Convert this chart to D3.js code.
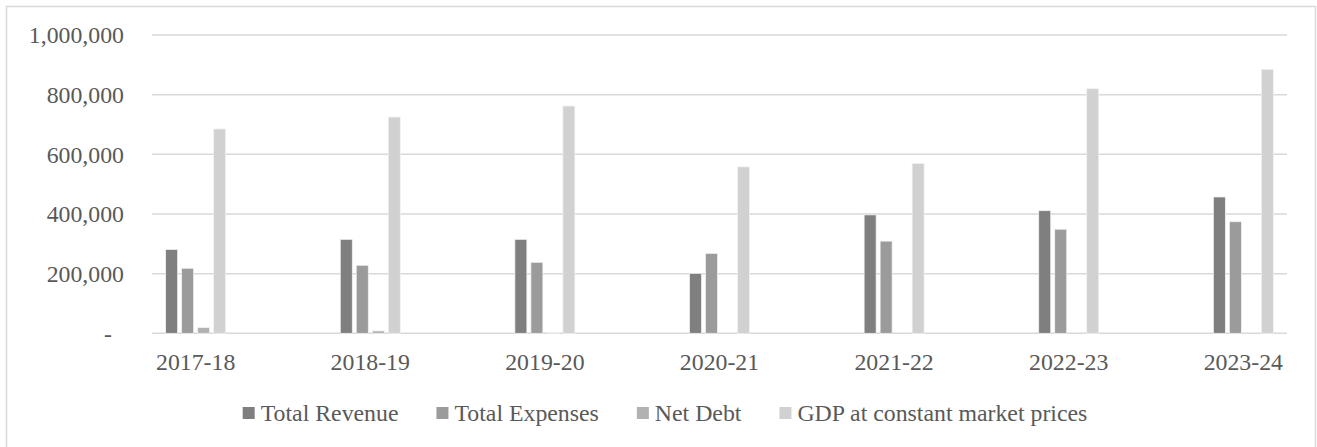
<!DOCTYPE html>
<html><head><meta charset="utf-8">
<script src="https://cdn.jsdelivr.net/npm/d3@7"></script>
<style>html,body{margin:0;padding:0;background:#fff;}svg{display:block;font-family:"Liberation Serif","Times New Roman",serif;}</style>
</head><body>
<svg id="chart" width="1317" height="447"></svg>
<script>
const categories = ["2017-18","2018-19","2019-20","2020-21","2021-22","2022-23","2023-24"];
const seriesNames = ["Total Revenue","Total Expenses","Net Debt","GDP at constant market prices"];
const totalRevenue = [281000, 315000, 315000, 201000, 397000, 411000, 457000];
const totalExpenses = [218000, 228000, 238000, 268000, 309000, 349000, 374000];
const netDebt = [19000, 8000, 1000, 0, 0, 0, 0];
const gdp = [685000, 725000, 762000, 558000, 569000, 820000, 885000];
const yTicks = [0, 200000, 400000, 600000, 800000, 1000000];
const colors = ["#7f7f7f", "#9b9b9b", "#b2b2b2", "#d1d1d1"];

const seriesValues = [totalRevenue, totalExpenses, netDebt, gdp];
const svg = d3.select("#chart");
const plotLeft = 152, plotRight = 1287, plotTop = 35, plotBottom = 333.3;
const fs = 23.8;

svg.append("rect").attr("x",6.5).attr("y",6.5).attr("width",1309).attr("height",445)
  .attr("fill","#fff").attr("stroke","#d9d9d9").attr("stroke-width",1.5);

const x = d3.scalePoint().domain(categories).range([plotLeft, plotRight]).padding(0.25);
const xs = d3.scaleBand().domain(seriesNames).range([-30, 30]).paddingInner(0.25);
const y = d3.scaleLinear().domain([0, 1000000]).range([plotBottom, plotTop]);

// gridlines
svg.append("g").selectAll("line").data(yTicks).join("line")
  .attr("x1", plotLeft).attr("x2", plotRight)
  .attr("y1", d => y(d)).attr("y2", d => y(d))
  .attr("stroke", "#d9d9d9").attr("stroke-width", 1.5);

// y labels
const fmt = d3.format(",");
svg.append("g").selectAll("text").data(yTicks).join("text")
  .attr("x", d => d === 0 ? 112 : 124)
  .attr("y", d => y(d))
  .attr("dy", "0.35em")
  .attr("text-anchor", "end")
  .attr("fill", "#595959").attr("font-size", fs)
  .text(d => d === 0 ? "-" : fmt(d));

// bars
const g = svg.append("g");
seriesNames.forEach((s, si) => {
  g.append("g").selectAll("rect").data(categories.map((c, i) => ({c, v: seriesValues[si][i]})).filter(d => d.v > 0))
    .join("rect")
    .attr("x", d => x(d.c) + xs(s))
    .attr("width", xs.bandwidth())
    .attr("y", d => y(d.v))
    .attr("height", d => y(0) - y(d.v))
    .attr("fill", colors[si])
    .attr("stroke", "#f2f2f2").attr("stroke-width", 0.75);
});

// x labels
svg.append("g").selectAll("text").data(categories).join("text")
  .attr("x", d => x(d)).attr("y", 370)
  .attr("text-anchor", "middle")
  .attr("fill", "#595959").attr("font-size", fs)
  .text(d => d);

// legend
const leg = svg.append("g");
let cx = 0;
seriesNames.forEach((s, i) => {
  const it = leg.append("g");
  it.append("rect").attr("x", 0).attr("y", -6).attr("width", 12).attr("height", 12).attr("fill", colors[i]);
  const t = it.append("text").attr("x", 18).attr("y", 0).attr("dy", "0.35em")
    .attr("fill", "#595959").attr("font-size", fs).text(s);
  const w = 18 + t.node().getComputedTextLength();
  it.attr("transform", `translate(${cx},413)`);
  cx += w + 38;
});
const totalW = cx - 38;
leg.attr("transform", `translate(${665 - totalW/2},0)`);
</script>
</body></html>
